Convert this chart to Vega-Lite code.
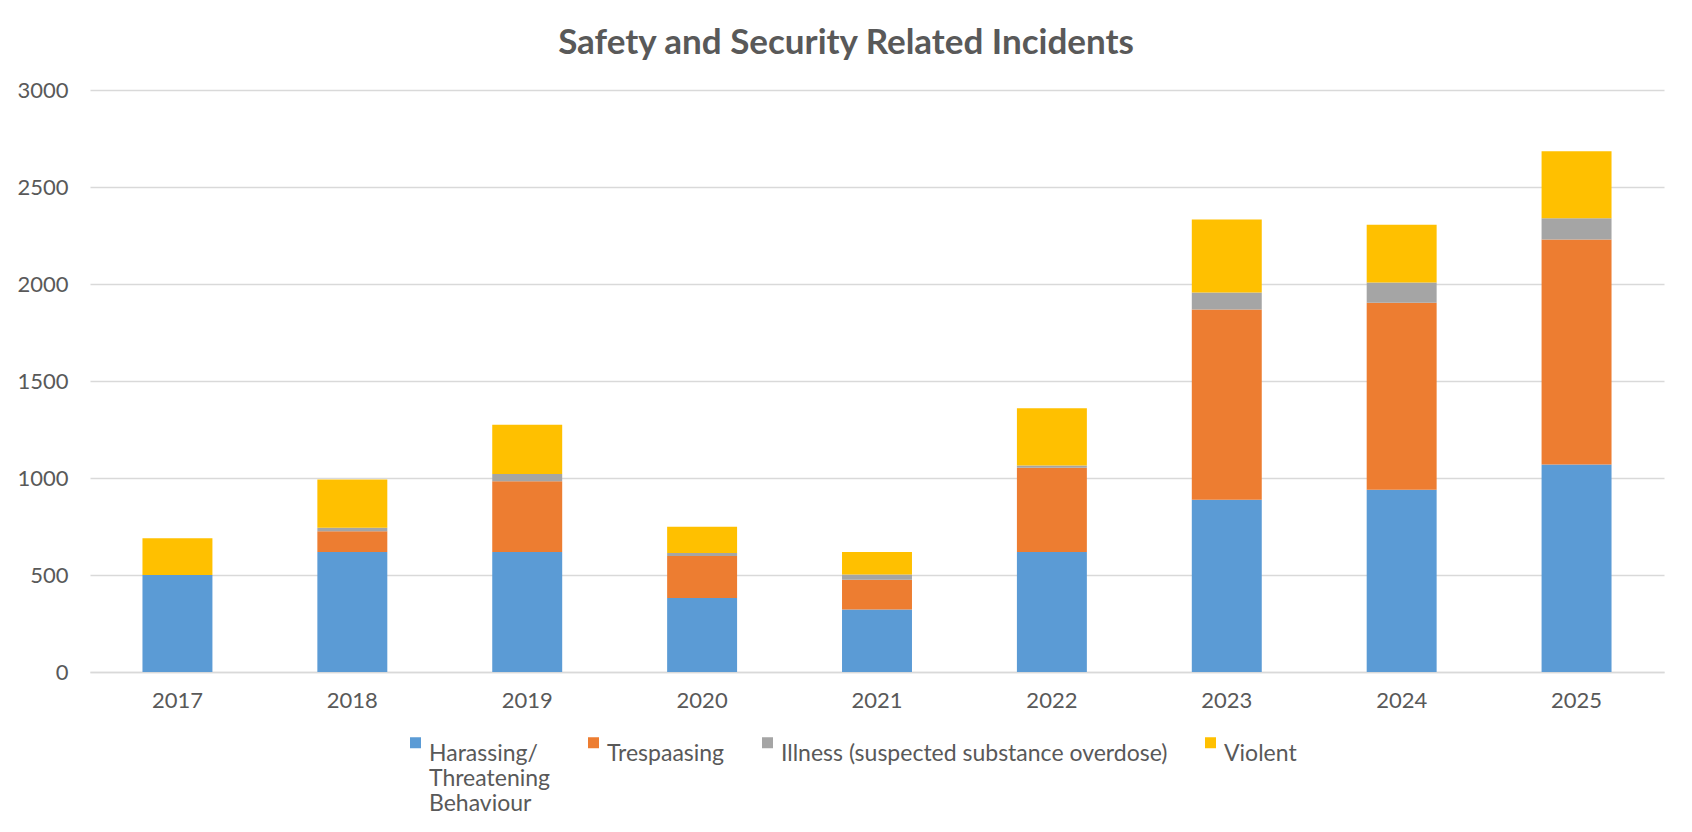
{
  "$schema": "https://vega.github.io/schema/vega-lite/v6.json",
  "width": 1574,
  "height": 582,
  "autosize": {"type": "none"},
  "padding": {"left": 90, "top": 90, "right": 28, "bottom": 160},
  "background": "white",
  "title": {
    "text": "Safety and Security Related Incidents",
    "font": "Lato",
    "fontSize": 35,
    "fontWeight": "bold",
    "color": "#595959",
    "anchor": "middle",
    "dx": -31,
    "offset": 18
  },
  "data": {
    "values": [
      {"year": "2017", "category": "Harassing/ Threatening Behaviour", "count": 500},
      {"year": "2017", "category": "Trespaasing", "count": 0},
      {"year": "2017", "category": "Illness (suspected substance overdose)", "count": 0},
      {"year": "2017", "category": "Violent", "count": 190},
      {"year": "2018", "category": "Harassing/ Threatening Behaviour", "count": 619},
      {"year": "2018", "category": "Trespaasing", "count": 107},
      {"year": "2018", "category": "Illness (suspected substance overdose)", "count": 17},
      {"year": "2018", "category": "Violent", "count": 249},
      {"year": "2019", "category": "Harassing/ Threatening Behaviour", "count": 619},
      {"year": "2019", "category": "Trespaasing", "count": 364},
      {"year": "2019", "category": "Illness (suspected substance overdose)", "count": 38},
      {"year": "2019", "category": "Violent", "count": 253},
      {"year": "2020", "category": "Harassing/ Threatening Behaviour", "count": 381},
      {"year": "2020", "category": "Trespaasing", "count": 217},
      {"year": "2020", "category": "Illness (suspected substance overdose)", "count": 15},
      {"year": "2020", "category": "Violent", "count": 136},
      {"year": "2021", "category": "Harassing/ Threatening Behaviour", "count": 322},
      {"year": "2021", "category": "Trespaasing", "count": 154},
      {"year": "2021", "category": "Illness (suspected substance overdose)", "count": 27},
      {"year": "2021", "category": "Violent", "count": 116},
      {"year": "2022", "category": "Harassing/ Threatening Behaviour", "count": 619},
      {"year": "2022", "category": "Trespaasing", "count": 434},
      {"year": "2022", "category": "Illness (suspected substance overdose)", "count": 12},
      {"year": "2022", "category": "Violent", "count": 295},
      {"year": "2023", "category": "Harassing/ Threatening Behaviour", "count": 888},
      {"year": "2023", "category": "Trespaasing", "count": 981},
      {"year": "2023", "category": "Illness (suspected substance overdose)", "count": 87},
      {"year": "2023", "category": "Violent", "count": 377},
      {"year": "2024", "category": "Harassing/ Threatening Behaviour", "count": 939},
      {"year": "2024", "category": "Trespaasing", "count": 964},
      {"year": "2024", "category": "Illness (suspected substance overdose)", "count": 105},
      {"year": "2024", "category": "Violent", "count": 297},
      {"year": "2025", "category": "Harassing/ Threatening Behaviour", "count": 1069},
      {"year": "2025", "category": "Trespaasing", "count": 1160},
      {"year": "2025", "category": "Illness (suspected substance overdose)", "count": 110},
      {"year": "2025", "category": "Violent", "count": 345}
    ]
  },
  "transform": [
    {"calculate": "indexof(['Harassing/ Threatening Behaviour','Trespaasing','Illness (suspected substance overdose)','Violent'], datum.category)", "as": "stackOrder"}
  ],
  "mark": {"type": "bar"},
  "encoding": {
    "x": {
      "field": "year",
      "type": "nominal",
      "title": null,
      "scale": {"paddingInner": 0.6, "paddingOuter": 0.3},
      "axis": {
        "labelAngle": 0,
        "labelFont": "Lato",
        "labelFontSize": 22,
        "labelColor": "#595959",
        "labelPadding": 18,
        "ticks": false,
        "domainColor": "#d9d9d9",
        "domainWidth": 1.5,
        "grid": false
      }
    },
    "y": {
      "field": "count",
      "type": "quantitative",
      "stack": "zero",
      "title": null,
      "scale": {"domain": [0, 3000], "nice": false},
      "axis": {
        "values": [0, 500, 1000, 1500, 2000, 2500, 3000],
        "format": "d",
        "labelFont": "Lato",
        "labelFontSize": 22,
        "labelColor": "#595959",
        "labelPadding": 22,
        "ticks": false,
        "domain": false,
        "grid": true,
        "gridColor": "#d9d9d9",
        "gridWidth": 1.5
      }
    },
    "color": {
      "field": "category",
      "type": "nominal",
      "scale": {
        "domain": ["Harassing/ Threatening Behaviour", "Trespaasing", "Illness (suspected substance overdose)", "Violent"],
        "range": ["#5B9BD5", "#ED7D31", "#A5A5A5", "#FFC000"]
      },
      "legend": {
        "title": null,
        "orient": "none",
        "direction": "horizontal",
        "legendX": 314,
        "legendY": 641,
        "symbolType": "square",
        "symbolSize": 121,
        "symbolStrokeWidth": 0,
        "labelFont": "Lato",
        "labelFontSize": 23,
        "labelColor": "#595959",
        "labelOffset": 2,
        "labelLimit": 700,
        "columnPadding": 31,
        "labelExpr": "datum.label == 'Harassing/ Threatening Behaviour' ? ['Harassing/', 'Threatening', 'Behaviour'] : [datum.label, ' ', ' ']",
        "labelBaseline": "top",
        "encoding": {
          "symbols": {"update": {"y": {"value": 14}}},
          "labels": {"update": {"y": {"value": 0}, "lineHeight": {"value": 27}}}
        }
      }
    },
    "order": {"field": "stackOrder", "type": "quantitative", "sort": "ascending"}
  },
  "config": {
    "view": {"stroke": null}
  }
}
